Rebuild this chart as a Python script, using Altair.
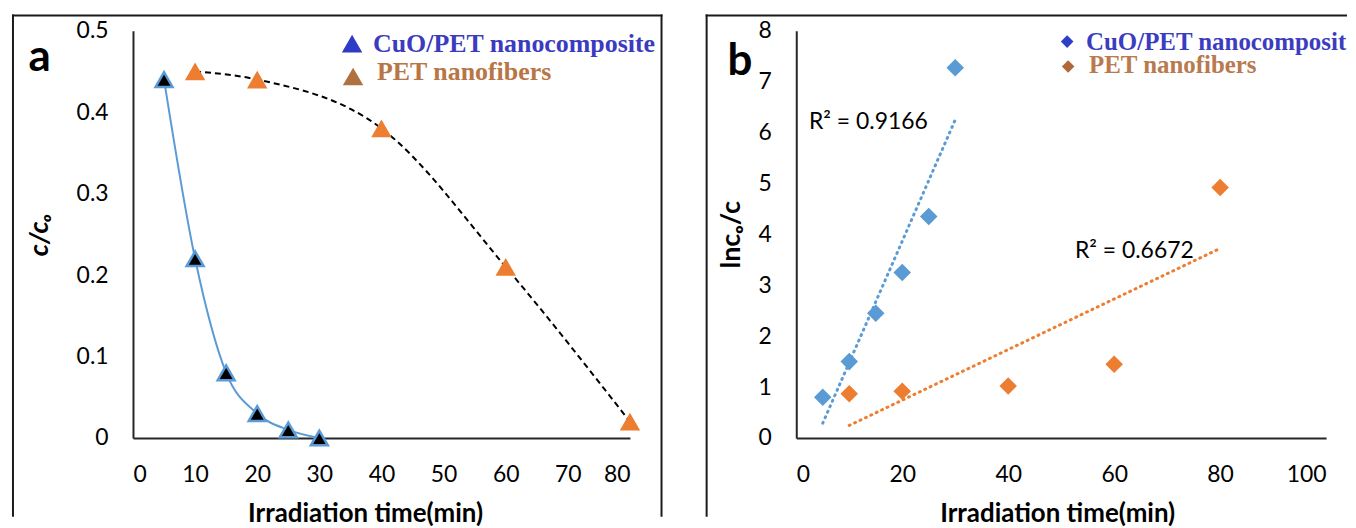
import altair as alt
import pandas as pd

# ---------------- data ----------------
# panel a : c/c0 vs irradiation time
a_cuo_t = [5, 10, 15, 20, 25, 30]
a_cuo_c = [0.44, 0.22, 0.08, 0.03, 0.01, 0.0]
a_pet_t = [10, 20, 40, 60, 80]
a_pet_c = [0.45, 0.44, 0.38, 0.21, 0.02]

# panel b : ln(c0/c) vs irradiation time
b_cuo_t = [5, 10, 15, 20, 25, 30]
b_cuo_v = [0.80, 1.50, 2.45, 3.25, 4.35, 7.27]
b_pet_t = [10, 20, 40, 60, 80]
b_pet_v = [0.87, 0.92, 1.02, 1.45, 4.92]

series_names = ["CuO/PET nanocomposite", "PET nanofibers"]
r2_labels = ["R\u00b2 = 0.9166", "R\u00b2 = 0.6672"]
r2_t = [2.4, 52.6]
r2_v = [6.2, 3.68]

a_xticks = [0, 10, 20, 30, 40, 50, 60, 70, 80]
a_yticks = [0, 0.1, 0.2, 0.3, 0.4, 0.5]
b_xticks = [0, 20, 40, 60, 80, 100]
b_yticks = [0, 1, 2, 3, 4, 5, 6, 7, 8]

# ---------------- style ----------------
FONT = "Lato, 'DejaVu Sans', sans-serif"
SERIF = "'Liberation Serif', 'DejaVu Serif', serif"
BLUE = "#5B9BD5"
ORANGE = "#ED7D31"
BORDER = "#1a1a1a"
W_A, W_B, H = 499, 532, 409

one = pd.DataFrame({"k": [0]})


def border(left, right, top, bottom, sides):
    layers = []
    if "l" in sides:
        layers.append(alt.Chart(one).mark_rule(color=BORDER, strokeWidth=2).encode(
            x=alt.value(left), y=alt.value(top - 1), y2=alt.value(bottom)))
    if "r" in sides:
        layers.append(alt.Chart(one).mark_rule(color=BORDER, strokeWidth=2).encode(
            x=alt.value(right), y=alt.value(top - 1), y2=alt.value(bottom)))
    if "t" in sides:
        layers.append(alt.Chart(one).mark_rule(color=BORDER, strokeWidth=2).encode(
            x=alt.value(left - 1), x2=alt.value(right + 1), y=alt.value(top)))
    return layers


def label_text(txt, x, y, color, size, font=SERIF, weight="bold", limit=0):
    kw = dict(font=font, fontSize=size, fontWeight=weight, color=color,
              align="left", baseline="alphabetic")
    if limit:
        kw.update(limit=limit, ellipsis="\u200b")
    return alt.Chart(one).mark_text(**kw).encode(
        x=alt.value(x), y=alt.value(y), text=alt.value(txt))


def legend_symbol(shape, x, y, color, size):
    return alt.Chart(one).mark_point(shape=shape, filled=True, color=color,
                                     size=size, opacity=1).encode(
        x=alt.value(x), y=alt.value(y))


# ---------------- panel a ----------------
dfa1 = pd.DataFrame({"t": a_cuo_t, "c": a_cuo_c})
dfa2 = pd.DataFrame({"t": a_pet_t, "c": a_pet_c})

xa = alt.X("t:Q", scale=alt.Scale(domain=[0, 80], nice=False),
           axis=alt.Axis(values=a_xticks, title="Irradiation time(min)",
                         titleX=233, titleY=84, titleBaseline="alphabetic",
                         labelPadding=26))
ya = alt.Y("c:Q", scale=alt.Scale(domain=[0, 0.5], nice=False),
           axis=alt.Axis(values=a_yticks, format="~g", title="c/c\u2092",
                         titleFontStyle="italic", titleFontSize=27,
                         titleX=-94, titleY=H / 2, titleAngle=270,
                         titleBaseline="middle", labelPadding=25))

a_line1 = alt.Chart(dfa1).mark_line(color=BLUE, strokeWidth=2, interpolate="monotone").encode(x=xa, y=ya)
a_pts1 = alt.Chart(dfa1).mark_point(shape="triangle-up", fill="black", stroke=BLUE,
                                    strokeWidth=2.5, size=290, opacity=1,
                                    fillOpacity=1).encode(x=xa, y=ya)
a_line2 = alt.Chart(dfa2).mark_line(color="black", strokeWidth=2, strokeDash=[6, 4],
                                    interpolate="monotone").encode(x=xa, y=ya)
a_pts2 = alt.Chart(dfa2).mark_point(shape="triangle-up", filled=True, color=ORANGE,
                                    size=420, opacity=1).encode(x=xa, y=ya)

panel_a = alt.layer(
    a_line1, a_line2, a_pts1, a_pts2,
    *border(-120.5, 530.7, -15.3, 488, "ltr"),
    legend_symbol("triangle-up", 220, 13, "#2E3BC4", 420),
    legend_symbol("triangle-up", 221, 46, "#B0703F", 420),
    label_text(series_names[0], 241, 21, "#3B3BC0", 26),
    label_text(series_names[1], 245, 50, "#B87545", 26),
    label_text("a", -105, 41, "black", 44, font=FONT),
).properties(width=W_A, height=H)

# ---------------- panel b ----------------
dfb1 = pd.DataFrame({"t": b_cuo_t, "v": b_cuo_v})
dfb2 = pd.DataFrame({"t": b_pet_t, "v": b_pet_v})
dfr2 = pd.DataFrame({"t": r2_t, "v": r2_v, "lab": r2_labels})

xb = alt.X("t:Q", scale=alt.Scale(domain=[0, 100], nice=False),
           axis=alt.Axis(values=b_xticks, title="Irradiation time(min)",
                         titleX=262, titleY=84, titleBaseline="alphabetic",
                         labelPadding=26))
yb = alt.Y("v:Q", scale=alt.Scale(domain=[0, 8], nice=False),
           axis=alt.Axis(values=b_yticks, title="lnc\u2092/c", titleFontSize=27,
                         titleX=-65, titleY=H / 2, titleAngle=270,
                         titleBaseline="middle", labelPadding=25))

b_trend1 = alt.Chart(dfb1).transform_regression("t", "v").mark_line(
    color=BLUE, strokeWidth=3, strokeDash=[1, 5], strokeCap="round").encode(x=xb, y=yb)
b_trend2 = alt.Chart(dfb2).transform_regression("t", "v").mark_line(
    color=ORANGE, strokeWidth=3, strokeDash=[1, 5], strokeCap="round").encode(x=xb, y=yb)
b_pts1 = alt.Chart(dfb1).mark_point(shape="diamond", filled=True, color=BLUE,
                                    size=310, opacity=1).encode(x=xb, y=yb)
b_pts2 = alt.Chart(dfb2).mark_point(shape="diamond", filled=True, color=ORANGE,
                                    size=310, opacity=1).encode(x=xb, y=yb)
b_r2 = alt.Chart(dfr2).mark_text(font=FONT, fontSize=23, color="black", align="left",
                                 baseline="middle").encode(x=xb, y=yb, text="lab:N")

panel_b = alt.layer(
    b_trend1, b_trend2, b_pts1, b_pts2, b_r2,
    *border(-90, 552, -15.3, 488, "lt"),
    legend_symbol("diamond", 272, 11, "#2B3FC8", 160),
    legend_symbol("diamond", 273, 36, "#B0683A", 160),
    label_text(series_names[0], 291, 19, "#3C3CC0", 25, limit=262),
    label_text(series_names[1], 294, 43, "#B87A4E", 25),
    label_text("b", -69, 45, "black", 44, font=FONT),
).properties(width=W_B, height=H)

chart = alt.hconcat(panel_a, panel_b, spacing=41).properties(
    padding={"left": 2.5, "top": 3.7, "right": 0, "bottom": 0}
).configure_axis(
    domainColor="#262626", domainWidth=2, ticks=False, tickSize=0, grid=False,
    labelFont=FONT, labelFontSize=23, labelColor="black",
    titleFont=FONT, titleFontSize=26, titleFontWeight="bold", titleColor="black",
).configure_view(stroke=None)

chart.save("out.html", embed_options={"renderer": "svg", "actions": False})
